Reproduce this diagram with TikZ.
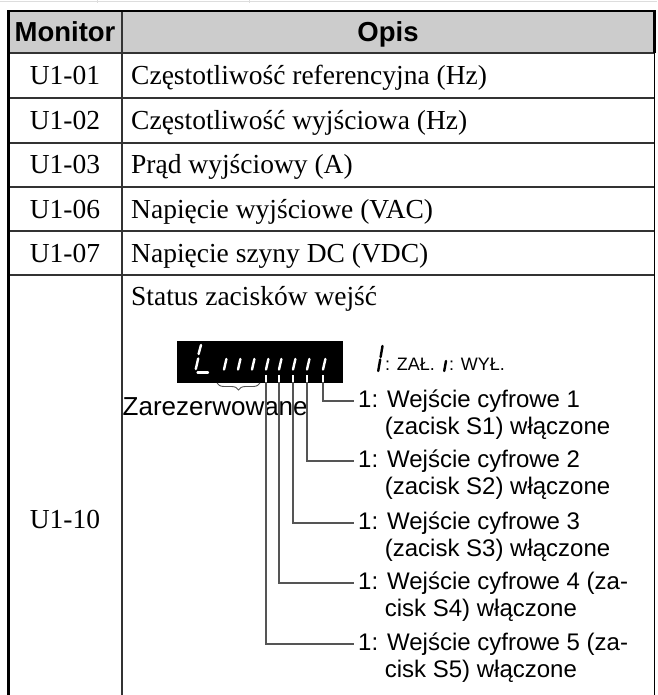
\documentclass[tikz,border=0pt]{standalone}
\usepackage{fontspec}
\setmainfont{Liberation Serif}
\setsansfont{Liberation Sans}
\usetikzlibrary{decorations.pathreplacing}
\definecolor{hdrgray}{HTML}{CCCCCC}
\definecolor{rulegray}{HTML}{333333}
\definecolor{leadgray}{HTML}{555555}
\definecolor{faint}{HTML}{DDDDDD}
\newfontfamily\lgdfont{Liberation Sans}
\begin{document}
\begin{tikzpicture}[x=1pt,y=-1pt,
  hdr/.style={font=\sffamily\bfseries\fontsize{27.5}{29}\selectfont, inner sep=0pt, anchor=base},
  cell/.style={font=\fontsize{27.5}{29}\selectfont, inner sep=0pt, anchor=base},
  desc/.style={font=\fontsize{27.5}{29}\selectfont, inner sep=0pt, anchor=base west},
  item/.style={font=\sffamily\fontsize{24}{27}\selectfont, inner sep=0pt, anchor=base west, align=left},
  lgdtext/.style={inner sep=0pt, anchor=base west},
  seg/.style={white, line width=2.4pt, line cap=round},
  lseg/.style={black, line width=2.4pt, line cap=round},
  leader/.style={leadgray, line width=1.1pt},
  rowline/.style={rulegray, line width=1.4pt},
  thick border/.style={black, line width=2.6pt}]
\useasboundingbox (0,0) rectangle (657,695);
% faint remains of previous table
\draw[faint, line width=1.2pt] (0,1.5) -- (657,1.5);
\draw[faint, line width=1pt] (97,0) -- (97,3) (249,0) -- (249,3);
% header
\fill[hdrgray] (8,11) rectangle (655,53);
% horizontal rules
\foreach \y in {98,143,187,231,275} \draw[rowline] (8,\y) -- (655,\y);
\draw[rulegray, line width=2.2pt] (8,53) -- (655,53);
% verticals
\draw[rulegray, line width=1.3pt] (122,11) -- (122,695);
\draw[black, line width=1.6pt] (654.5,53) -- (654.5,695);
\draw[thick border] (8.5,695) -- (8.5,11) -- (654.5,11) -- (654.5,53);
% header text
\node[hdr] (hm) at (65,41.5) {Monitor};
\node[hdr] (ho) at (388,41.5) {Opis};
% rows
\node[cell] (c1) at (65,84.5) {U1-01};
\node[desc] (d1) at (131,84.5) {Częstotliwość referencyjna (Hz)};
\node[cell] (c2) at (65,129.5) {U1-02};
\node[desc] (d2) at (131,129.5) {Częstotliwość wyjściowa (Hz)};
\node[cell] (c3) at (65,174) {U1-03};
\node[desc] (d3) at (131,174) {Prąd wyjściowy (A)};
\node[cell] (c4) at (65,218) {U1-06};
\node[desc] (d4) at (131,218) {Napięcie wyjściowe (VAC)};
\node[cell] (c5) at (65,262) {U1-07};
\node[desc] (d5) at (131,262) {Napięcie szyny DC (VDC)};
\node[cell] (c6) at (65,528) {U1-10};
\node[desc] (d6) at (131,305) {Status zacisków wejść};
% display
\fill[black] (177,341) rectangle (343,383);
% L character
\draw[seg] (201,345) -- (198.6,354);
\draw[seg] (198.2,358.5) -- (195.8,369);
\draw[seg] (197.5,372.5) -- (208,372.5);
% marks (lower segments)
\foreach \p/\n in {224/r1,238/r2,252/r3,266/k5,279/k4,293/k3,307/k2,323/k1}{
  \draw[seg] (\p+2.4,359) -- (\p,369.5);
  \coordinate (\n) at (\p,375);
}
% brace
\draw[leadgray, line width=0.9pt, decorate, decoration={brace, amplitude=7pt, mirror}] (217,383) -- (260,383);
\node[font=\sffamily\fontsize{26}{28}\selectfont, inner sep=0pt, anchor=base west] (res) at (122.5,415) {Zarezerwowane};
% legend
\draw[lseg, line width=2.4pt] (382.5,346) -- (380.6,357);
\draw[lseg, line width=2.4pt] (380.2,359.5) -- (378.2,371);
\node[lgdtext] (on) at (385,370) {\lgdfont\fontsize{18}{20}\selectfont : ZAŁ.};
\draw[lseg, line width=2.4pt] (446,361) -- (444.2,371);
\node[lgdtext] (off) at (449,370) {\lgdfont\fontsize{18}{20}\selectfont : WYŁ.};
% items (base = baseline of second line)
\node[item] (s1) at (358,434) {1: Wejście cyfrowe 1\\\hphantom{1:\ }(zacisk S1) włączone};
\node[item] (s2) at (358,494) {1: Wejście cyfrowe 2\\\hphantom{1:\ }(zacisk S2) włączone};
\node[item] (s3) at (358,556) {1: Wejście cyfrowe 3\\\hphantom{1:\ }(zacisk S3) włączone};
\node[item] (s4) at (358,616) {1: Wejście cyfrowe 4 (za-\\\hphantom{1:\ }cisk S4) włączone};
\node[item] (s5) at (358,677) {1: Wejście cyfrowe 5 (za-\\\hphantom{1:\ }cisk S5) włączone};
% leaders
\foreach \k/\s in {k1/s1,k2/s2,k3/s3,k4/s4,k5/s5}{
  \draw[leader] (\k) |- ([xshift=-4pt,yshift=33pt]\s.base west);
  \draw[white, line width=1.1pt] (\k) -- ++(0,7);
}
\end{tikzpicture}
\end{document}
